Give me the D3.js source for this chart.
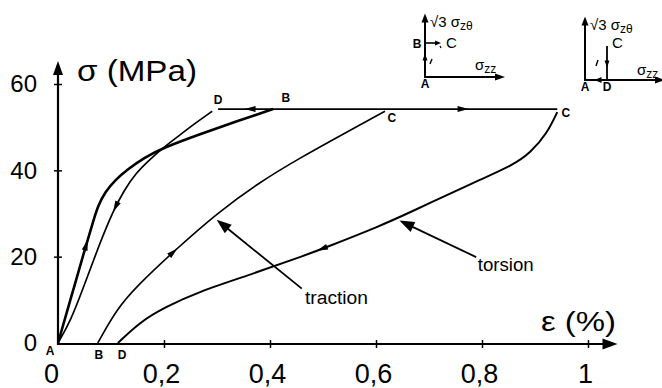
<!DOCTYPE html>
<html>
<head>
<meta charset="utf-8">
<script src="https://cdn.jsdelivr.net/npm/d3@7"></script>
<style>
  body { margin: 0; background: #fff; }
  svg { display: block; font-family: "Liberation Sans", Arial, Helvetica, sans-serif; }
</style>
</head>
<body>
<svg id="chart" width="662" height="388"></svg>
<script>
// strain (%) vs equivalent stress (MPa)
const torsionLoad = [[0, 0], [0.026, 11.1], [0.053, 22.7], [0.066, 28.0], [0.075, 31.7], [0.089, 35.0],
    [0.108, 37.8], [0.132, 40.3], [0.162, 42.9], [0.198, 45.2], [0.268, 48.4], [0.338, 51.4], [0.406, 54.2]];
// D -> A, stored starting at A
const torsionBack = [[0, 0], [0.023, 4.9], [0.047, 12.5], [0.079, 23.2], [0.104, 30.6], [0.125, 35.4],
    [0.147, 39.4], [0.174, 42.6], [0.198, 45.2], [0.230, 48.2], [0.260, 51.0], [0.291, 53.7]];
const tractionLoad = [[0.075, 0], [0.111, 7.9], [0.149, 13.2], [0.217, 21.1], [0.302, 30.3], [0.381, 37.3],
    [0.457, 42.9], [0.538, 48.4], [0.617, 53.7]];
// C -> D, stored starting at D
const torsionUnload = [[0.113, 0], [0.155, 4.9], [0.202, 8.3], [0.268, 12.0], [0.362, 15.8], [0.457, 19.9],
    [0.498, 21.8], [0.608, 27.1], [0.670, 30.6], [0.734, 34.3], [0.796, 37.8], [0.858, 41.2],
    [0.891, 44.0], [0.923, 48.6], [0.942, 53.5]];
const plateau = [[0.302, 54.2], [0.942, 54.2]];

const xTicks = [0, 0.2, 0.4, 0.6, 0.8, 1];
const xTickLabels = ['0', '0,2', '0,4', '0,6', '0,8', '1'];
const yTicks = [0, 20, 40, 60];

// little arrows sitting on the curves: [curve, eps, sigma, direction]
const curveArrows = [
    ['torsionLoad', 0.053, 22.7, 1],
    ['torsionBack', 0.111, 31.4, -1],
    ['tractionLoad', 0.217, 21.1, 1],
    ['torsionUnload', 0.498, 21.8, -1],
    ['plateau', 0.362, 54.2, -1],
    ['plateau', 0.764, 54.2, 1]
];

// point letters: [text, eps, sigma]
const pointLabels = [
    ['D', 0.302, 55.4], ['B', 0.430, 55.9], ['C', 0.630, 51.1], ['C', 0.958, 52.3],
    ['A', -0.015, -2.8], ['B', 0.077, -3.7], ['D', 0.121, -3.7]
];

const callouts = [
    { text: 'traction', tip: [0.300, 28.5], tail: [0.460, 12.6], at: [0.466, 9.0] },
    { text: 'torsion', tip: [0.645, 28.3], tail: [0.789, 19.9], at: [0.792, 16.6] }
];

const svg = d3.select('#chart');
const x = d3.scaleLinear().domain([0, 1]).range([58, 588]);
const y = d3.scaleLinear().domain([0, 60]).range([343, 84]);

const line = d3.line().x(d => x(d[0])).y(d => y(d[1])).curve(d3.curveBasis);

function head(px, py, ang, len, wid) {
    svg.append('path')
        .attr('d', `M${len / 2},0L${-len / 2},${-wid / 2}L${-len / 2},${wid / 2}Z`)
        .attr('transform', `translate(${px},${py}) rotate(${ang})`)
        .attr('fill', '#000');
}

// ---- axes
const yAxis = svg.append('g').attr('transform', `translate(${x(0)},0)`)
    .call(d3.axisLeft(y).tickValues(yTicks).tickSize(4).tickSizeOuter(0));
yAxis.select('.domain').remove();
yAxis.selectAll('.tick line').attr('x1', -4).attr('x2', 4).attr('stroke-width', 1.5);
yAxis.selectAll('.tick text').attr('x', -21).attr('font-size', 24)
    .attr('font-family', '"Liberation Sans", Arial, sans-serif').attr('fill', '#000');
yAxis.selectAll('.tick').filter(d => d === 0).select('line').remove();

const xAxis = svg.append('g').attr('transform', `translate(0,${y(0) + 1})`)
    .call(d3.axisBottom(x).tickValues(xTicks).tickSize(4).tickSizeOuter(0)
        .tickFormat((d, i) => xTickLabels[i]));
xAxis.select('.domain').remove();
xAxis.selectAll('.tick line').attr('y1', -4).attr('y2', 4).attr('stroke-width', 1.5);
xAxis.selectAll('.tick').filter(d => d === 0).select('line').remove();
xAxis.selectAll('.tick text').attr('y', 39).attr('dy', 0).attr('dx', (d, i) => i === 0 ? -7 : -3)
    .attr('font-size', 27).attr('font-family', '"Liberation Sans", Arial, sans-serif').attr('fill', '#000');

svg.append('line').attr('x1', x(0)).attr('x2', x(0)).attr('y1', y(0) + 2).attr('y2', 70)
    .attr('stroke', '#000').attr('stroke-width', 2.2);
head(x(0), 68, -90, 14, 10);
svg.append('line').attr('x1', x(0) - 1).attr('x2', 606).attr('y1', y(0) + 1).attr('y2', y(0) + 1)
    .attr('stroke', '#000').attr('stroke-width', 2.2);
head(610, y(0) + 1, 0, 15, 11);

svg.append('text').attr('x', 77).attr('y', 81).attr('font-size', 29)
    .attr('textLength', 120).attr('lengthAdjust', 'spacingAndGlyphs').text('σ (MPa)');
svg.append('text').attr('x', 541).attr('y', 331).attr('font-size', 27)
    .attr('textLength', 75).attr('lengthAdjust', 'spacingAndGlyphs').text('ε (%)');

// ---- curves
const curves = { torsionLoad, torsionBack, tractionLoad, torsionUnload, plateau };
const widths = { torsionLoad: 2.6, torsionBack: 1.7, tractionLoad: 1.6, torsionUnload: 2.0, plateau: 1.7 };
const paths = {};
Object.entries(curves).forEach(([k, pts]) => {
    paths[k] = svg.append('path').attr('d', line(pts)).attr('fill', 'none')
        .attr('stroke', '#000').attr('stroke-width', widths[k]).attr('stroke-linejoin', 'round');
});

curveArrows.forEach(([k, e, s, dir]) => {
    const node = paths[k].node(), L = node.getTotalLength();
    const px = x(e), py = y(s);
    let best = 0, bd = Infinity;
    for (let l = 0; l <= L; l += 0.5) {
        const p = node.getPointAtLength(l);
        const d = (p.x - px) ** 2 + (p.y - py) ** 2;
        if (d < bd) { bd = d; best = l; }
    }
    const a = node.getPointAtLength(Math.max(0, best - 3));
    const b = node.getPointAtLength(Math.min(L, best + 3));
    let ang = Math.atan2(b.y - a.y, b.x - a.x) * 180 / Math.PI;
    if (dir < 0) ang += 180;
    const p = node.getPointAtLength(best);
    head(p.x, p.y, ang, 11, 6);
});

pointLabels.forEach(([t, e, s]) => {
    svg.append('text').attr('x', x(e)).attr('y', y(s)).attr('text-anchor', 'middle')
        .attr('font-size', 12).attr('font-weight', 'bold').text(t);
});

callouts.forEach(c => {
    const tx = x(c.tip[0]), ty = y(c.tip[1]), sx = x(c.tail[0]), sy = y(c.tail[1]);
    const ang = Math.atan2(ty - sy, tx - sx) * 180 / Math.PI;
    const r = Math.hypot(tx - sx, ty - sy);
    const ex = tx - (tx - sx) / r * 10, ey = ty - (ty - sy) / r * 10;
    svg.append('line').attr('x1', sx).attr('y1', sy).attr('x2', ex).attr('y2', ey)
        .attr('stroke', '#000').attr('stroke-width', 1.8);
    head(tx - (tx - sx) / r * 7, ty - (ty - sy) / r * 7, ang, 15, 11);
    svg.append('text').attr('x', x(c.at[0])).attr('y', y(c.at[1])).attr('font-size', 18)
        .attr('textLength', c.text === 'traction' ? 63 : 56).attr('lengthAdjust', 'spacingAndGlyphs')
        .text(c.text);
});

// ---- loading path sketches (top right)
function sigmaLabel(g, lx, ly, sub) {
    const t = g.append('text').attr('x', lx).attr('y', ly).attr('font-size', 15);
    t.append('tspan').text(sub === 'zθ' ? '√3 σ' : 'σ');
    t.append('tspan').attr('font-size', 12).attr('dy', 3).text(sub);
}
function stroke(g, x1, y1, x2, y2, w) {
    g.append('line').attr('x1', x1).attr('y1', y1).attr('x2', x2).attr('y2', y2)
        .attr('stroke', '#000').attr('stroke-width', w || 1.8);
}
function smallHead(g, px, py, ang, len, wid) {
    g.append('path').attr('d', `M${len / 2},0L${-len / 2},${-wid / 2}L${-len / 2},${wid / 2}Z`)
        .attr('transform', `translate(${px},${py}) rotate(${ang})`).attr('fill', '#000');
}
function inset(ox, oy, kind) {
    const g = svg.append('g').attr('transform', `translate(${ox},${oy})`);
    stroke(g, 0, 1, 0, -58, 2);
    smallHead(g, 0, -59, -90, 9, 7);
    stroke(g, -1, 0, 73, 0, 2);
    smallHead(g, 75, 0, 0, 10, 7);
    sigmaLabel(g, 5, -50, 'zθ');
    g.append('text').attr('x', 0).attr('y', 11).attr('text-anchor', 'middle')
        .attr('font-size', 12).attr('font-weight', 'bold').text('A');
    if (kind === 'left') {
        sigmaLabel(g, 50, -7, 'zz');
        g.append('text').attr('x', -8).attr('y', -29).attr('text-anchor', 'middle')
            .attr('font-size', 12).attr('font-weight', 'bold').text('B');
        stroke(g, 0, -34, 12, -34, 1.6);
        smallHead(g, 13, -34, 0, 6, 5);
        stroke(g, 15, -31, 16, -29, 1.2);
        g.append('text').attr('x', 21).attr('y', -29).attr('font-size', 15).text('C');
        smallHead(g, 0, -20, -90, 7, 5);
        stroke(g, 5, -13, 7, -18, 1.4);
    } else {
        sigmaLabel(g, 52, -5, 'zz');
        g.append('text').attr('x', 27).attr('y', -32).attr('font-size', 15).text('C');
        stroke(g, 22, -34, 22, 0, 1.8);
        smallHead(g, 22, -16, 90, 7, 5);
        smallHead(g, 13, 0, 180, 7, 6);
        stroke(g, 11, -14, 13, -20, 1.4);
        g.append('text').attr('x', 22).attr('y', 11).attr('text-anchor', 'middle')
            .attr('font-size', 12).attr('font-weight', 'bold').text('D');
    }
}
inset(425, 77, 'left');
inset(585, 80, 'right');
</script>
</body>
</html>
